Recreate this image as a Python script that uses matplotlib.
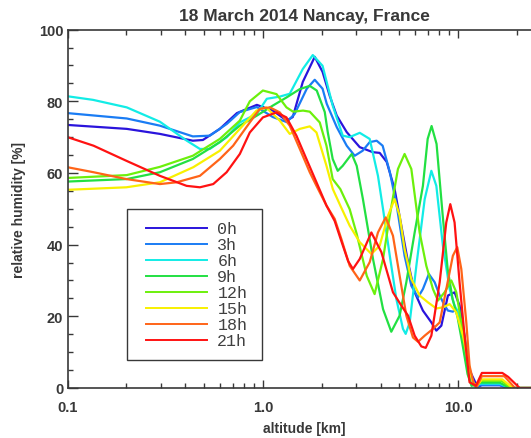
import numpy as np
import matplotlib
matplotlib.use("Agg")
import matplotlib.pyplot as plt
from matplotlib.patches import Rectangle
from matplotlib.ticker import FixedLocator, MultipleLocator, NullFormatter

# relative humidity profiles, Nancay 18 March 2014 (altitude km, RH %)
alt_0h = [0.100, 0.201, 0.297, 0.438, 0.493, 0.602, 0.736, 0.931, 1.124, 1.324, 1.422, 1.60, 1.842, 2.02, 2.198,
          2.387, 2.685, 3.13, 3.65, 3.96, 4.30, 4.72, 5.11, 5.53, 5.98, 6.59, 7.28, 7.72, 8.19, 8.85, 9.57, 10.15,
          10.76, 11.33, 12.12, 12.55, 13.2, 16.3, 18.0, 26.0]
rh_0h = [73.4, 72.3, 70.9, 69.0, 69.2, 72.3, 76.7, 79.0, 77.4, 74.6, 75.6, 85.4, 92.4, 88.2, 81.5,
         76.0, 71.4, 67.2, 65.8, 65.6, 63.1, 55.5, 45.3, 35.1, 26.7, 21.6, 18.3, 16.0, 17.4, 25.8, 26.7, 23.0,
         14.6, 5.3, 2.0, 0.3, 0.8, 0.8, 0.0, 0.0]

alt_3h = [0.100, 0.201, 0.297, 0.438, 0.535, 0.654, 0.762, 0.931, 1.124, 1.324, 1.455, 1.677, 1.842, 2.02, 2.122,
          2.387, 2.685, 2.95, 3.24, 3.52, 3.82, 4.10, 4.46, 4.84, 5.31, 5.75, 6.22, 6.59, 7.07, 7.57, 8.03, 8.51,
          8.85, 9.38, 9.77, 10.39, 11.02, 11.69, 12.27, 13.0, 16.3, 18.0, 26.0]
rh_3h = [76.7, 75.2, 73.2, 70.2, 70.4, 73.7, 77.0, 78.4, 75.6, 74.2, 76.5, 83.5, 86.0, 83.5, 79.3,
         72.8, 67.6, 64.8, 66.2, 68.6, 69.0, 67.6, 60.3, 50.9, 36.9, 28.5, 25.3, 27.6, 31.8, 29.5, 25.8, 23.0,
         21.6, 21.3, 22.0, 15.1, 6.7, 1.4, 0.3, 0.8, 0.8, 0.0, 0.0]

alt_6h = [0.100, 0.135, 0.201, 0.297, 0.408, 0.476, 0.535, 0.654, 0.762, 0.931, 1.047, 1.22, 1.372, 1.60, 1.80,
          2.02, 2.276, 2.562, 2.78, 3.13, 3.52, 3.88, 4.12, 4.46, 4.82, 5.21, 5.38, 5.64, 6.10, 6.73, 7.28, 7.72,
          8.34, 9.03, 9.57, 10.15, 10.99, 11.42, 11.97, 13.0, 16.3, 18.3, 26.0]
rh_6h = [81.4, 80.4, 78.3, 74.3, 69.0, 66.7, 66.7, 70.0, 74.1, 76.5, 80.7, 81.3, 82.1, 89.0, 92.9,
         89.9, 78.8, 70.4, 70.0, 71.2, 69.5, 59.2, 49.9, 36.9, 24.8, 16.5, 15.1, 18.3, 34.1, 52.7, 60.6, 56.4,
         39.7, 27.6, 23.0, 20.2, 10.9, 4.7, 0.8, 1.2, 1.2, 0.0, 0.0]

alt_9h = [0.100, 0.201, 0.297, 0.438, 0.602, 0.762, 0.931, 1.124, 1.324, 1.545, 1.737, 1.886, 2.073, 2.147, 2.276,
          2.415, 2.562, 2.848, 3.02, 3.25, 3.66, 4.12, 4.54, 5.01, 5.42, 5.98, 6.59, 6.97, 7.30, 7.74, 8.31, 8.82,
          9.35, 9.91, 10.5, 11.15, 11.69, 13.0, 16.3, 18.3, 26.0]
rh_9h = [57.6, 58.3, 60.2, 63.9, 68.6, 73.2, 76.0, 78.8, 81.1, 83.4, 84.3, 83.0, 77.0, 71.4, 63.9,
         60.6, 62.0, 65.3, 62.0, 52.7, 36.0, 22.0, 15.7, 20.2, 29.5, 43.4, 56.4, 69.5, 73.1, 68.1, 48.5, 33.2,
         24.8, 19.8, 12.3, 3.9, 0.6, 1.5, 1.5, 0.0, 0.0]

alt_12h = [0.100, 0.201, 0.297, 0.438, 0.602, 0.762, 0.857, 1.00, 1.174, 1.32, 1.427, 1.605, 1.737, 1.954, 2.115,
           2.276, 2.49, 2.78, 3.02, 3.40, 3.73, 4.12, 4.46, 4.91, 5.31, 5.75, 6.34, 6.86, 7.42, 7.87, 8.51, 9.21,
           9.77, 10.36, 10.99, 11.55, 12.12, 13.0, 16.6, 18.7, 26.0]
rh_12h = [58.6, 59.4, 61.7, 64.8, 69.5, 74.6, 80.0, 83.0, 82.0, 78.3, 77.1, 77.4, 77.1, 74.1, 67.6,
          58.3, 55.5, 49.9, 43.0, 31.3, 26.2, 36.0, 48.1, 61.1, 65.3, 61.1, 43.4, 34.1, 27.6, 24.4, 26.7, 30.0,
          26.7, 18.3, 10.9, 3.9, 0.6, 2.0, 2.0, 0.0, 0.0]

alt_15h = [0.100, 0.20, 0.297, 0.44, 0.602, 0.762, 0.927, 1.04, 1.22, 1.372, 1.545, 1.737, 1.88, 2.115, 2.28,
           2.49, 2.78, 3.13, 3.59, 3.96, 4.37, 4.72, 5.01, 5.31, 5.75, 6.34, 6.99, 7.72, 8.34, 9.03, 9.77, 10.56,
           11.2, 11.8, 12.4, 13.2, 16.8, 19.0, 26.0]
rh_15h = [55.3, 56.0, 57.4, 61.6, 66.2, 72.3, 77.4, 78.3, 74.6, 70.9, 72.3, 73.0, 71.3, 62.0, 55.5,
          50.9, 45.3, 40.7, 37.4, 39.7, 48.1, 52.7, 48.1, 38.8, 30.4, 25.8, 23.9, 22.2, 22.5, 23.4, 21.1, 14.6,
          7.2, 2.0, 0.3, 2.4, 2.4, 0.0, 0.0]

alt_18h = [0.100, 0.136, 0.20, 0.297, 0.362, 0.476, 0.602, 0.704, 0.857, 0.965, 1.086, 1.22, 1.372, 1.545, 1.737,
           1.88, 2.115, 2.33, 2.52, 2.78, 3.13, 3.52, 3.88, 4.25, 4.63, 5.01, 5.42, 5.86, 6.22, 6.73, 7.42, 8.03,
           8.68, 9.38, 9.88, 10.36, 10.99, 11.42, 11.97, 12.4, 13.2, 17.2, 19.5, 26.0]
rh_18h = [61.6, 60.2, 58.3, 56.9, 57.4, 59.2, 63.9, 67.6, 74.1, 77.9, 78.3, 76.9, 73.2, 66.7, 60.2,
          56.4, 50.9, 47.2, 41.6, 34.1, 30.0, 35.1, 43.4, 47.6, 42.5, 31.3, 20.2, 14.1, 12.9, 14.6, 16.5, 18.3,
          27.6, 36.9, 39.3, 33.2, 18.3, 6.2, 1.4, 0.3, 3.3, 3.3, 0.0, 0.0]

alt_21h = [0.100, 0.136, 0.20, 0.297, 0.407, 0.476, 0.557, 0.652, 0.762, 0.857, 1.00, 1.174, 1.32, 1.485, 1.67,
           1.88, 2.115, 2.33, 2.52, 2.73, 2.89, 3.13, 3.59, 4.04, 4.63, 5.11, 5.53, 5.98, 6.47, 6.81, 7.28, 8.03,
           8.68, 9.10, 9.57, 10.15, 10.76, 11.42, 12.3, 13.2, 16.8, 18.0, 20.6, 26.0]
rh_21h = [70.0, 67.6, 63.4, 59.2, 56.4, 56.0, 56.9, 60.2, 65.3, 71.3, 75.5, 76.9, 75.5, 70.4, 63.9,
          57.4, 50.9, 46.6, 41.0, 35.4, 33.2, 36.0, 43.4, 37.9, 26.7, 23.0, 20.2, 14.6, 11.6, 11.2, 14.6, 29.5,
          46.2, 51.3, 46.2, 29.5, 14.6, 1.6, 0.6, 4.2, 4.2, 3.1, 0.0, 0.0]

labels = ["0h", "3h", "6h", "9h", "12h", "15h", "18h", "21h"]
colors = ["#2a14dc", "#1a7cf4", "#12ece6", "#22e042", "#6cf00c", "#f8f000", "#ff6418", "#ff1212"]
profiles = [(alt_0h, rh_0h), (alt_3h, rh_3h), (alt_6h, rh_6h), (alt_9h, rh_9h),
            (alt_12h, rh_12h), (alt_15h, rh_15h), (alt_18h, rh_18h), (alt_21h, rh_21h)]

plt.rcParams["font.family"] = ["Liberation Sans", "DejaVu Sans"]
INK = "#383838"
W, H = 531, 439

fig = plt.figure(figsize=(W / 100, H / 100), dpi=100)
ax = fig.add_axes([67.5 / W, 50 / H, 473.5 / W, 358.4 / H])

for (a, r), lab, col in zip(profiles, labels, colors):
    ax.plot(a, r, color=col, lw=1.6, label=lab, solid_joinstyle="round")

ax.set_xscale("log")
ax.set_xlim(0.1, 26.5)
ax.set_ylim(0, 100)
ax.xaxis.set_major_locator(FixedLocator([0.1, 1.0, 10.0]))
ax.set_xticklabels(["0.1", "1.0", "10.0"])
ax.xaxis.set_minor_formatter(NullFormatter())
ax.yaxis.set_major_locator(MultipleLocator(20))
ax.yaxis.set_minor_locator(MultipleLocator(5))

ax.tick_params(which="both", direction="in", top=True, right=False, colors=INK, width=1.0)
ax.tick_params(axis="x", which="major", length=6, pad=9, labelsize=10.5)
ax.tick_params(axis="x", which="minor", length=3.5)
ax.tick_params(axis="y", which="major", length=7, pad=3, labelsize=10.5)
ax.tick_params(axis="y", which="minor", length=3.5)
for lbl in ax.get_xticklabels() + ax.get_yticklabels():
    lbl.set_fontweight("bold")
    lbl.set_color(INK)
for s in ax.spines.values():
    s.set_color(INK)
    s.set_linewidth(1.2)

ax.set_title("18 March 2014 Nancay, France", fontsize=12.5, fontweight="bold", color=INK, pad=7)
ax.set_xlabel("altitude [km]", fontsize=10, fontweight="bold", color=INK)
ax.set_ylabel("relative humidity [%]", fontsize=10, fontweight="bold", color=INK)
ax.xaxis.set_label_coords(0.5, -0.091)
ax.xaxis.label.set_va("top")
ax.yaxis.set_label_coords(-0.103, 0.5)
ax.yaxis.label.set_va("center")

# legend entries without their own frame, boxed separately like the original
leg = ax.legend(loc="upper left", bbox_to_anchor=(146 / W, 1 - 222.5 / H), bbox_transform=fig.transFigure,
                borderaxespad=0, borderpad=0, frameon=False, prop={"family": "Liberation Mono", "size": 12},
                handlelength=3.66, handletextpad=0.62, labelspacing=0.06)
for line in leg.get_lines():
    line.set_linewidth(1.4)
for t in leg.get_texts():
    t.set_color("#404040")
fig.add_artist(Rectangle((126.7 / W, 1 - 361 / H), 135 / W, 151 / H, transform=fig.transFigure,
                         fill=False, edgecolor=INK, lw=1.0))

fig.savefig("out.png", dpi=100)
